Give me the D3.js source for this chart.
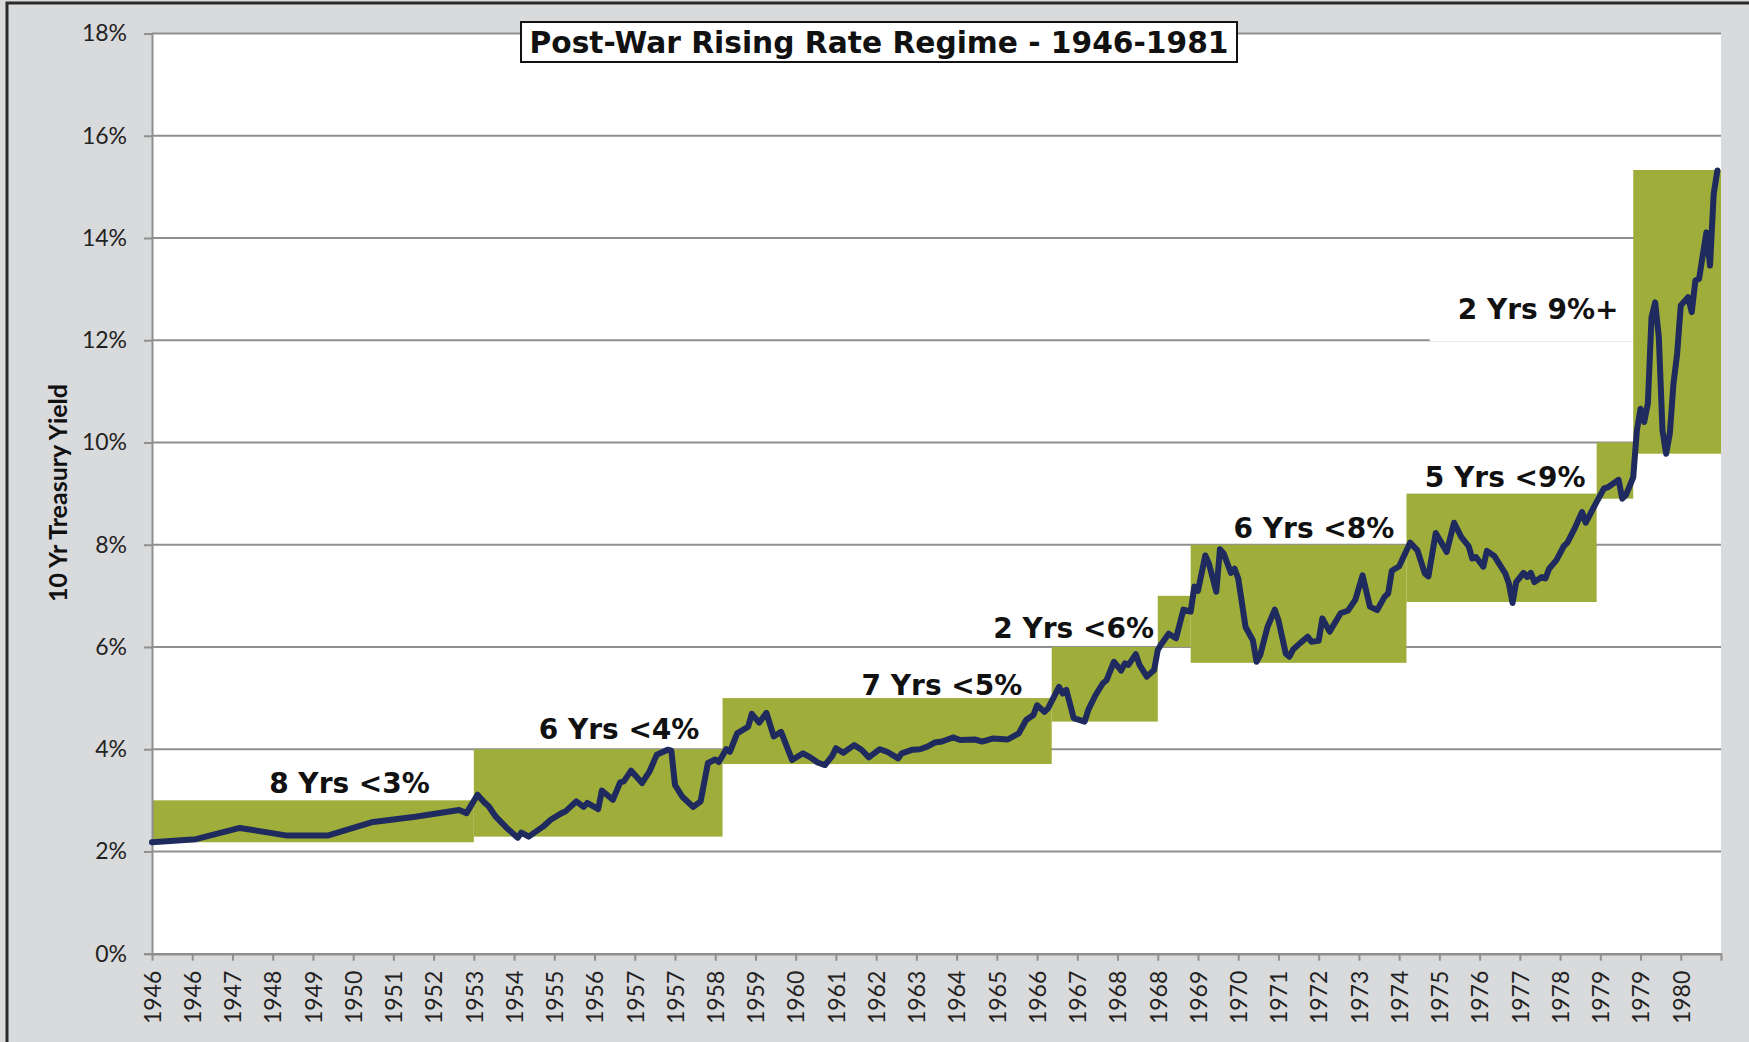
<!DOCTYPE html>
<html>
<head>
<meta charset="utf-8">
<script src="https://cdn.jsdelivr.net/npm/d3@7/dist/d3.min.js"></script>
<style>
  body { margin: 0; background: #d9dadc; }
  svg { display: block; }
</style>
</head>
<body>
<div id="canvas"></div>
<script>
const W = 1749, H = 1042;
const PLOT = { LEFT: 152, RIGHT: 1721, TOP: 33.5, BOTTOM: 953.7 };

// months since Jan 1946 and 10 yr yield (%)
const lineMonths = [0,12,24,37,48,60,72,84,86,89,91,92,94,97,100,101,103,107,109,112,113,116,118,119,122,123,126,128,129,131,134,136,138,141,142,143,145,148,150,152,154,155,157,158,160,163,164,166,168,170,172,175,178,180,182,184,186,187,189,192,194,196,199,201,204,205,208,210,212,214,216,219,221,225,227,230,234,237,239,241,242,244,245,248,249,250,252,255,256,258,260,261,263,265,266,267,269,270,272,274,275,276,278,280,282,284,285,286,288,289,291,292,293,295,296,297,299,301,302,303,305,307,308,310,311,312,314,316,317,319,320,322,325,327,329,331,333,335,337,338,339,341,344,346,348,349,351,354,356,358,360,361,362,364,365,367,370,371,372,373,375,376,377,378,380,381,382,384,386,387,389,391,392,395,397,398,401,402,403,405,406,407,408,409,410,411,412,413,414,415,416,417,418,420,421,422,423,425,426,427,428];
const lineYields = [2.18,2.24,2.46,2.31,2.31,2.57,2.68,2.81,2.75,3.11,2.95,2.89,2.68,2.46,2.27,2.37,2.29,2.49,2.62,2.75,2.78,2.98,2.87,2.95,2.83,3.19,3.01,3.35,3.37,3.58,3.34,3.56,3.89,3.99,3.97,3.30,3.07,2.87,2.98,3.73,3.80,3.75,4.00,3.95,4.31,4.44,4.69,4.52,4.71,4.25,4.34,3.79,3.92,3.84,3.74,3.69,3.87,4.02,3.93,4.08,3.99,3.84,4.00,3.95,3.82,3.92,3.99,4.00,4.05,4.13,4.15,4.23,4.18,4.19,4.15,4.21,4.19,4.31,4.57,4.67,4.86,4.73,4.80,5.22,5.09,5.16,4.61,4.54,4.77,5.06,5.29,5.35,5.71,5.54,5.68,5.65,5.86,5.65,5.42,5.55,5.94,6.06,6.26,6.17,6.73,6.69,7.18,7.10,7.79,7.63,7.08,7.91,7.83,7.45,7.53,7.34,6.39,6.13,5.71,5.84,6.39,6.73,6.52,5.87,5.81,5.95,6.08,6.20,6.10,6.12,6.56,6.30,6.66,6.71,6.92,7.40,6.79,6.72,6.98,7.05,7.49,7.58,8.04,7.89,7.44,7.38,8.23,7.86,8.43,8.15,7.97,7.73,7.76,7.57,7.88,7.78,7.44,7.24,6.86,7.27,7.45,7.37,7.45,7.27,7.37,7.34,7.53,7.70,7.97,8.04,8.32,8.64,8.43,8.84,9.10,9.12,9.27,8.90,8.97,9.32,10.24,10.66,10.40,10.76,12.45,12.74,12.06,10.24,9.78,10.17,11.15,11.73,12.68,12.84,12.55,13.17,13.20,14.11,13.46,14.86,15.32];

// regime boxes
const boxStart = [0, 88, 156, 246, 275, 284, 343, 395, 405];
const boxEnd   = [88, 156, 246, 275, 284, 343, 395, 405, 429];
const boxLow   = [2.18, 2.29, 3.71, 4.54, 6.0, 5.69, 6.88, 8.9, 9.78];
const boxHigh  = [3.0, 4.0, 5.0, 6.0, 7.0, 8.0, 9.0, 10.0, 15.33];

// regime labels (centre month, baseline yield)
const regimeText   = ['8 Yrs <3%', '6 Yrs <4%', '7 Yrs <5%', '2 Yrs <6%', '6 Yrs <8%', '5 Yrs <9%', '2 Yrs 9%+'];
const regimeMonth  = [54, 127.7, 216, 252, 317.7, 370, 379];
const regimeYield  = [3.14, 4.19, 5.06, 6.17, 8.14, 9.12, 12.42];
const maskBox = [349.4, 405.5, 11.98, 13.16]; // white label backing of "2 Yrs 9%+"

const tickYears = [1946,1946,1947,1948,1949,1950,1951,1952,1953,1954,1955,1956,1957,1957,1958,1959,1960,1961,1962,1963,1964,1965,1966,1967,1968,1968,1969,1970,1971,1972,1973,1974,1975,1976,1977,1978,1979,1979,1980];
const TICK_EVERY = 11;
const yTicks = [0, 2, 4, 6, 8, 10, 12, 14, 16, 18];

const GRID = '#8f8f8f';
const GREEN = '#9fad3b';
const NAVY = '#1f2a5e';

const svg = d3.select('#canvas').append('svg')
  .attr('width', W)
  .attr('height', H);

svg.append('rect')
  .attr('x', 7).attr('y', 3)
  .attr('width', W + 20).attr('height', H + 20)
  .attr('fill', '#d9dadc')
  .attr('stroke', '#2a2a2a')
  .attr('stroke-width', 3);

const x = d3.scaleLinear().domain([0, 429]).range([PLOT.LEFT, PLOT.RIGHT]);
const y = d3.scaleLinear().domain([0, 18]).range([PLOT.BOTTOM, PLOT.TOP]);

svg.append('rect')
  .attr('x', PLOT.LEFT).attr('y', PLOT.TOP)
  .attr('width', PLOT.RIGHT - PLOT.LEFT).attr('height', PLOT.BOTTOM - PLOT.TOP)
  .attr('fill', '#fff');

// gridlines
svg.append('g')
  .selectAll('line')
  .data(yTicks.filter(d => d > 0))
  .enter().append('line')
    .attr('x1', PLOT.LEFT).attr('x2', PLOT.RIGHT)
    .attr('y1', d => y(d)).attr('y2', d => y(d))
    .attr('stroke', GRID)
    .attr('stroke-width', 2);

svg.append('rect')
  .attr('x', x(maskBox[0])).attr('y', y(maskBox[3]))
  .attr('width', x(maskBox[1]) - x(maskBox[0]))
  .attr('height', y(maskBox[2]) - y(maskBox[3]))
  .attr('fill', '#fff');

// regime boxes
svg.append('g')
  .selectAll('rect')
  .data(boxStart)
  .enter().append('rect')
    .attr('x', (d, i) => x(d))
    .attr('y', (d, i) => y(boxHigh[i]))
    .attr('width', (d, i) => x(boxEnd[i]) - x(d))
    .attr('height', (d, i) => y(boxLow[i]) - y(boxHigh[i]))
    .attr('fill', GREEN);

// y axis
const yAxis = svg.append('g')
  .attr('transform', `translate(${PLOT.LEFT},0)`)
  .call(d3.axisLeft(y).tickValues(yTicks).tickFormat(d => d + '%').tickSize(8).tickPadding(17));
yAxis.select('.domain').attr('stroke', GRID).attr('stroke-width', 2);
yAxis.selectAll('.tick line').attr('stroke', GRID).attr('stroke-width', 2);
yAxis.selectAll('text')
  .attr('font-family', 'Lato, sans-serif')
  .attr('font-size', 23)
  .attr('fill', '#222');

// x axis
const tickMonths = d3.range(0, 430, TICK_EVERY);
const xAxis = svg.append('g')
  .attr('transform', `translate(0,${PLOT.BOTTOM})`)
  .call(d3.axisBottom(x)
    .tickValues(tickMonths)
    .tickFormat((d, i) => tickYears[i] !== undefined ? tickYears[i] : '')
    .tickSize(7)
    .tickSizeOuter(0));
xAxis.select('.domain').attr('stroke', GRID).attr('stroke-width', 2.5);
xAxis.selectAll('.tick line').attr('stroke', GRID).attr('stroke-width', 2);
xAxis.selectAll('text')
  .attr('font-family', 'Lato, sans-serif')
  .attr('font-size', 23)
  .attr('fill', '#222')
  .attr('text-anchor', 'end')
  .attr('transform', 'rotate(-90)')
  .attr('x', -17)
  .attr('y', 0)
  .attr('dy', '0.36em');

// yield line
const line = d3.line()
  .x((d, i) => x(lineMonths[i]))
  .y(d => y(d));

svg.append('path')
  .datum(lineYields)
  .attr('d', line)
  .attr('fill', 'none')
  .attr('stroke', NAVY)
  .attr('stroke-width', 6)
  .attr('stroke-linejoin', 'round')
  .attr('stroke-linecap', 'round');

// regime labels
svg.append('g')
  .selectAll('text')
  .data(regimeText)
  .enter().append('text')
    .attr('x', (d, i) => x(regimeMonth[i]))
    .attr('y', (d, i) => y(regimeYield[i]))
    .attr('text-anchor', 'middle')
    .attr('font-family', 'DejaVu Sans, Verdana, sans-serif')
    .attr('font-weight', 'bold')
    .attr('font-size', 28)
    .attr('fill', '#111')
    .text(d => d);

// axis title
svg.append('text')
  .attr('transform', 'translate(58,493) rotate(-90)')
  .attr('text-anchor', 'middle')
  .attr('dy', '0.35em')
  .attr('font-family', 'Lato, sans-serif')
  .attr('font-weight', 'bold')
  .attr('font-size', 25)
  .attr('fill', '#111')
  .text('10 Yr Treasury Yield');

// chart title
svg.append('rect')
  .attr('x', 521).attr('y', 22)
  .attr('width', 716).attr('height', 40)
  .attr('fill', '#fff')
  .attr('stroke', '#111')
  .attr('stroke-width', 2);

svg.append('text')
  .attr('x', 879).attr('y', 52.5)
  .attr('text-anchor', 'middle')
  .attr('font-family', 'DejaVu Sans, sans-serif')
  .attr('font-weight', 'bold')
  .attr('font-size', 29.7)
  .attr('fill', '#111')
  .text('Post-War Rising Rate Regime - 1946-1981');
</script>
</body>
</html>
